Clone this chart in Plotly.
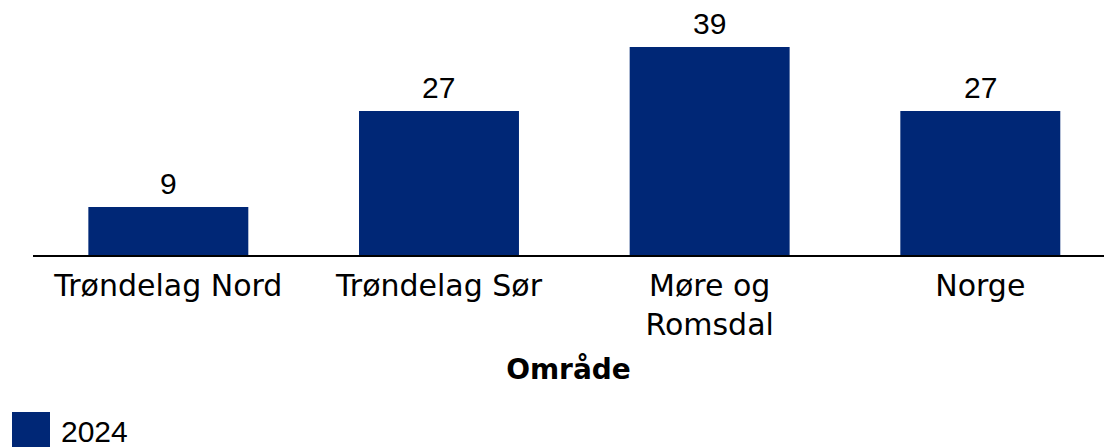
import plotly.graph_objects as go

categories = ["Trøndelag Nord", "Trøndelag Sør", "Møre og<br>Romsdal", "Norge"]
values_2024 = [9, 27, 39, 27]
series_name = "2024"
axis_title = "Område"

bar_color = "#002776"
cat_font = "DejaVu Sans"
num_font = "Liberation Sans, Arial"

fig = go.Figure()
fig.add_trace(go.Bar(
    x=categories,
    y=values_2024,
    name=series_name,
    marker=dict(color=bar_color, line=dict(width=0)),
    showlegend=False,
))

# Value labels above each bar
for cat, v in zip(categories, values_2024):
    fig.add_annotation(x=cat, y=v, text=str(v), showarrow=False,
                       xanchor="center", yanchor="bottom", yshift=5,
                       font=dict(family=num_font, size=30, color="#000000"))

fig.update_layout(
    width=1104,
    height=448,
    margin=dict(l=33, r=0, t=0, b=193),
    paper_bgcolor="white",
    plot_bgcolor="white",
    bargap=0.409,
    xaxis=dict(
        type="category",
        range=[-0.5, 3.457],
        showline=True,
        linecolor="#000000",
        linewidth=2,
        ticks="",
        ticklabelstandoff=3,
        showgrid=False,
        tickfont=dict(family=cat_font, size=30, color="#000000"),
        title=dict(text="<b>" + axis_title + "</b>",
                   font=dict(family=cat_font, size=28, color="#000000"),
                   standoff=18),
    ),
    yaxis=dict(
        range=[0, 47.8],
        visible=False,
        showgrid=False,
        zeroline=False,
    ),
)

# Legend entry drawn as a large swatch with its label
fig.add_shape(type="rect", xref="paper", yref="paper",
              x0=-21/1071, x1=17/1071, y0=-157/255, y1=-192/255,
              fillcolor=bar_color, line=dict(width=0))
fig.add_annotation(xref="paper", yref="paper", x=26/1071, y=-176/255,
                   text=series_name, showarrow=False, xanchor="left", yanchor="middle",
                   font=dict(family=num_font, size=30, color="#000000"))

fig.write_html("out.html")
